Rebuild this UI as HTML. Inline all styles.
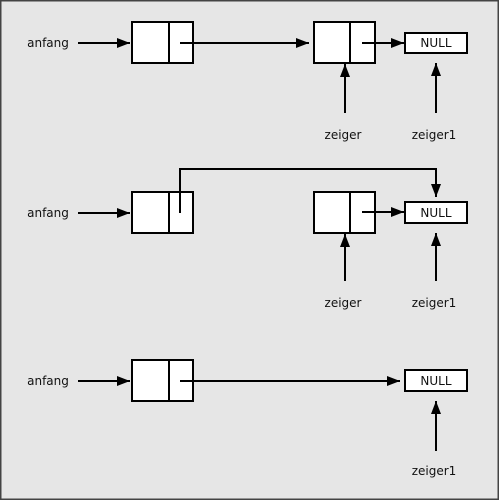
<!DOCTYPE html>
<html><head><style>
html,body{margin:0;padding:0;background:#e6e6e6;}
svg{display:block;}
text{font-family:"DejaVu Sans","Liberation Sans",sans-serif;font-size:12px;fill:#111;}
</style></head><body>
<svg width="499" height="500" viewBox="0 0 499 500" xmlns="http://www.w3.org/2000/svg">
<defs><marker id="a" markerWidth="13" markerHeight="10" refX="13" refY="5" orient="auto" markerUnits="userSpaceOnUse"><path d="M0,0 L13,5 L0,10 z" fill="#000"/></marker></defs>
<rect x="0.75" y="0.75" width="497.5" height="498.5" fill="#e6e6e6" stroke="#444" stroke-width="1.5"/>
<g stroke="#000" stroke-width="2" fill="none">
<rect x="132" y="22" width="61" height="41" fill="#fff"/><line x1="169" y1="22" x2="169" y2="63"/>
<rect x="314" y="22" width="61" height="41" fill="#fff"/><line x1="350" y1="22" x2="350" y2="63"/>
<rect x="405" y="33" width="62" height="20" fill="#fff"/>
<line x1="78" y1="43" x2="130" y2="43" marker-end="url(#a)"/>
<line x1="180" y1="43" x2="309" y2="43" marker-end="url(#a)"/>
<line x1="362" y1="43" x2="404" y2="43" marker-end="url(#a)"/>
<line x1="345" y1="113" x2="345" y2="64" marker-end="url(#a)"/>
<line x1="436" y1="113" x2="436" y2="63" marker-end="url(#a)"/>
<rect x="132" y="192" width="61" height="41" fill="#fff"/><line x1="169" y1="192" x2="169" y2="233"/>
<rect x="314" y="192" width="61" height="41" fill="#fff"/><line x1="350" y1="192" x2="350" y2="233"/>
<rect x="405" y="202" width="62" height="21" fill="#fff"/>
<line x1="78" y1="213" x2="130" y2="213" marker-end="url(#a)"/>
<polyline points="180,213 180,169 436,169 436,197" marker-end="url(#a)"/>
<line x1="362" y1="212" x2="404" y2="212" marker-end="url(#a)"/>
<line x1="345" y1="281" x2="345" y2="234" marker-end="url(#a)"/>
<line x1="436" y1="281" x2="436" y2="233" marker-end="url(#a)"/>
<rect x="132" y="360" width="61" height="41" fill="#fff"/><line x1="169" y1="360" x2="169" y2="401"/>
<rect x="405" y="370" width="62" height="21" fill="#fff"/>
<line x1="78" y1="381" x2="130" y2="381" marker-end="url(#a)"/>
<line x1="180" y1="381" x2="400" y2="381" marker-end="url(#a)"/>
<line x1="436" y1="451" x2="436" y2="401" marker-end="url(#a)"/>
</g>
<g text-anchor="middle">
<text x="48" y="47">anfang</text>
<text x="436" y="47">NULL</text>
<text x="343" y="139">zeiger</text>
<text x="434" y="139">zeiger1</text>
<text x="48" y="217">anfang</text>
<text x="436" y="217">NULL</text>
<text x="343" y="307">zeiger</text>
<text x="434" y="307">zeiger1</text>
<text x="48" y="385">anfang</text>
<text x="436" y="385">NULL</text>
<text x="434" y="475">zeiger1</text>
</g>
</svg>
</body></html>
